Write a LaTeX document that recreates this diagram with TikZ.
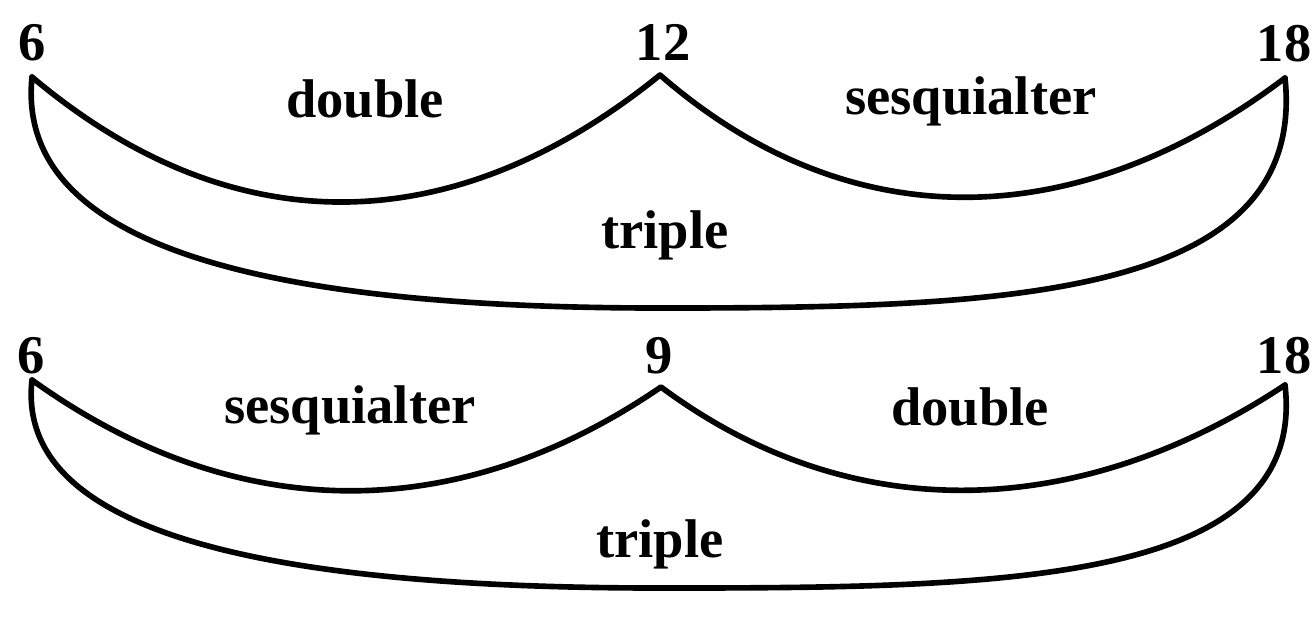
\documentclass[tikz,border=0pt]{standalone}
\usepackage{fontspec}
\setmainfont{Liberation Serif}
\begin{document}
\begin{tikzpicture}[x=0.01cm,y=-0.01cm,
  arc/.style={line width=1.6pt,line join=round,line cap=round},
  lbl/.style={inner sep=0pt,anchor=base,font=\fontsize{15.5}{18}\selectfont\bfseries}]
\useasboundingbox (0,0) rectangle (1313,617);
% ---------- upper diagram ----------
\coordinate (L1) at (32,77);
\coordinate (M1) at (660,75);
\coordinate (R1) at (1285,78);
\coordinate (B1) at (660,308);
\node[lbl] (n6a) at (32,60) {6};
\node[lbl] (n12) at (663,60) {12};
\node[lbl,anchor=base east] (n18a) at (1312,61) {18};
\node[lbl] (dbla) at (365,117) {double};
\node[lbl] (sesa) at (971,114) {sesquialter};
\node[lbl] (tria) at (665,248) {triple};
\draw[arc] (L1) .. controls (234,247) and (455,241) .. (M1)
           .. controls (853,243) and (1081,232) .. (R1);
\draw[arc] (L1) .. controls (15,245) and (260,308) .. (B1)
           .. controls (1000,308) and (1308,300) .. (R1);
% ---------- lower diagram ----------
\coordinate (L2) at (32,380);
\coordinate (M2) at (661,387);
\coordinate (R2) at (1285,385);
\coordinate (B2) at (660,588);
\node[lbl] (n6b) at (31,373) {6};
\node[lbl] (n9) at (659,373) {9};
\node[lbl,anchor=base east] (n18b) at (1312,373) {18};
\node[lbl] (sesb) at (350,423) {sesquialter};
\node[lbl] (dblb) at (970,425) {double};
\node[lbl] (trib) at (660,557) {triple};
\draw[arc] (L2) .. controls (234,525) and (455,528) .. (M2)
           .. controls (853,530) and (1081,520) .. (R2);
\draw[arc] (L2) .. controls (15,531) and (260,588) .. (B2)
           .. controls (1000,588) and (1308,585) .. (R2);
\end{tikzpicture}
\end{document}
